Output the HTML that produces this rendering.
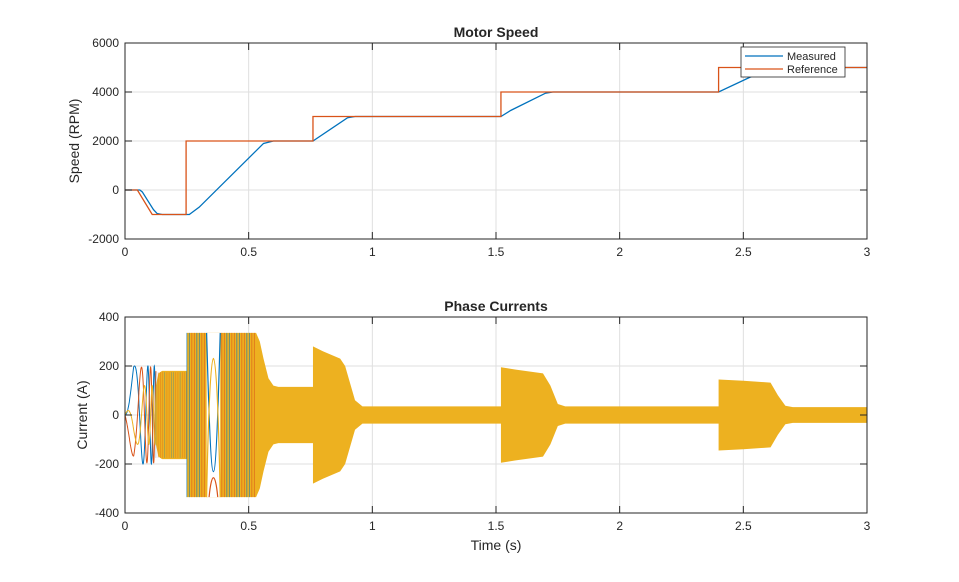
<!DOCTYPE html>
<html><head><meta charset="utf-8"><style>
body{margin:0;background:#fff;}
svg text{font-family:"Liberation Sans",Arial,sans-serif;fill:#262626;}
</style></head><body>
<svg id="s" width="959" height="577" xmlns="http://www.w3.org/2000/svg">
<rect width="959" height="577" fill="#fff"/>
<g id="g"></g>
<text x="496" y="37" font-size="14" font-weight="bold" text-anchor="middle">Motor Speed</text>
<text x="496" y="311" font-size="14" font-weight="bold" text-anchor="middle">Phase Currents</text>
<text x="496" y="550" font-size="14" text-anchor="middle">Time (s)</text>
<text transform="translate(79,141) rotate(-90)" font-size="14" text-anchor="middle">Speed (RPM)</text>
<text transform="translate(87,415) rotate(-90)" font-size="14" text-anchor="middle">Current (A)</text>
</svg>
<script>
const g=document.getElementById('g');
const NS='http://www.w3.org/2000/svg';
function el(t,a,txt){const e=document.createElementNS(NS,t);for(const k in a)e.setAttribute(k,a[k]);if(txt!==undefined)e.textContent=txt;g.appendChild(e);return e;}
const X=t=>125+t*247.33;
const Y1=v=>239-(v+2000)*196/8000;
const Y2=v=>415-v*0.245;
function axes(top,bot,Y,ticks){
 for(let i=0;i<=6;i++){const x=X(i*0.5);el('line',{x1:x,y1:top,x2:x,y2:bot,stroke:'#dfdfdf','stroke-width':1});}
 ticks.forEach(v=>el('line',{x1:125,y1:Y(v),x2:867,y2:Y(v),stroke:'#dfdfdf','stroke-width':1}));
}
function frame(top,bot,Y,ticks){
 el('rect',{x:125,y:top,width:742,height:bot-top,fill:'none',stroke:'#262626','stroke-width':1});
 for(let i=0;i<=6;i++){const x=X(i*0.5);el('line',{x1:x,y1:bot,x2:x,y2:bot-7,stroke:'#262626'});el('line',{x1:x,y1:top,x2:x,y2:top+7,stroke:'#262626'});
  el('text',{x:x,y:bot+17,'font-size':12,'text-anchor':'middle'},String(i*0.5));}
 ticks.forEach(v=>{el('line',{x1:125,y1:Y(v),x2:132,y2:Y(v),stroke:'#262626'});el('line',{x1:867,y1:Y(v),x2:860,y2:Y(v),stroke:'#262626'});
  el('text',{x:119,y:Y(v)+4,'font-size':12,'text-anchor':'end'},String(v));});
}
const t1=[-2000,0,2000,4000,6000], t2=[-400,-200,0,200,400];
axes(43,239,Y1,t1); axes(317,513,Y2,t2);
function pl(pts,Y,c){el('polyline',{points:pts.map(p=>X(p[0])+','+Y(p[1])).join(' '),fill:'none',stroke:c,'stroke-width':1.3});}
pl([[0,0],[0.06,0],[0.07,-80],[0.09,-400],[0.115,-800],[0.13,-960],[0.15,-1000],[0.26,-1000],[0.3,-700],[0.56,1900],[0.6,2000],[0.76,2000],[0.9,2950],[0.93,3000],[1.52,3000],[1.56,3250],[1.7,3950],[1.73,4000],[2.4,4000],[2.6,4950],[2.63,5000],[3,5000]],Y1,'#0072bd');
pl([[0,0],[0.05,0],[0.11,-1000],[0.247,-1000],[0.247,2000],[0.76,2000],[0.76,3000],[1.52,3000],[1.52,4000],[2.4,4000],[2.4,5000],[3,5000]],Y1,'#d95319');
function sinpath(ph,c,amp){let d='';for(let t=0;t<=0.125;t+=0.0004){const cyc=5*t+1000*t*t*t;const A=(t<0.035?t/0.035:1)*amp;const v=A*Math.sin(2*Math.PI*cyc+ph);d+=(d?'L':'M')+X(t).toFixed(1)+','+Y2(v).toFixed(1);}el('path',{d:d,fill:'none',stroke:c,'stroke-width':1});}
sinpath(0,'#0072bd',200);sinpath(-2.4,'#d95319',195);sinpath(2.3,'#edb120',120);
const env=[[0.12,20],[0.125,120],[0.135,170],[0.15,180],[0.25,180],[0.25,335],[0.53,335],[0.545,300],[0.56,230],[0.58,150],[0.6,120],[0.62,115],[0.76,115],[0.76,280],[0.8,260],[0.87,230],[0.89,200],[0.93,60],[0.96,35],[1.52,35],[1.52,195],[1.58,185],[1.69,170],[1.72,120],[1.75,45],[1.78,35],[2.4,35],[2.4,145],[2.5,140],[2.61,132],[2.64,80],[2.67,38],[2.7,32],[3,32]];
let pts=env.map(p=>X(p[0])+','+Y2(p[1])).concat(env.slice().reverse().map(p=>X(p[0])+','+Y2(-p[1])));
el('polygon',{points:pts.join(' '),fill:'#edb120'});
for(let x=X(0.125);x<X(0.25);x+=2.2){el('line',{x1:x,y1:Y2(175),x2:x,y2:Y2(-175),stroke:(Math.round(x)%3==0)?'#0072bd':'#d95319','stroke-width':0.6,'stroke-opacity':0.45});}
for(let x=X(0.25);x<X(0.53);x+=2.5){const t=(x-125)/247.33;if(t>0.33&&t<0.385)continue;el('line',{x1:x,y1:Y2(335),x2:x,y2:Y2(-335),stroke:(Math.round(x*3)%2==0)?'#0072bd':'#d95319','stroke-width':0.8,'stroke-opacity':0.7});}
el('rect',{x:X(0.33),y:Y2(335),width:X(0.385)-X(0.33),height:Y2(-335)-Y2(335),fill:'#fff'});
el('path',{d:`M${X(0.33)},${Y2(335)} C${X(0.35)},${Y2(-420)} ${X(0.365)},${Y2(-420)} ${X(0.385)},${Y2(335)}`,fill:'none',stroke:'#0072bd','stroke-width':1.2});
el('path',{d:`M${X(0.33)},${Y2(-335)} C${X(0.345)},${Y2(420)} ${X(0.37)},${Y2(420)} ${X(0.385)},${Y2(-335)}`,fill:'none',stroke:'#edb120','stroke-width':1.2});
el('path',{d:`M${X(0.34)},${Y2(-335)} C${X(0.35)},${Y2(-230)} ${X(0.365)},${Y2(-230)} ${X(0.375)},${Y2(-335)}`,fill:'none',stroke:'#d95319','stroke-width':1.2});
frame(43,239,Y1,t1); frame(317,513,Y2,t2);
el('rect',{x:741,y:47,width:104,height:30,fill:'#fff',stroke:'#262626','stroke-width':0.8});
el('line',{x1:745,y1:56,x2:783,y2:56,stroke:'#0072bd','stroke-width':1.3});
el('line',{x1:745,y1:69,x2:783,y2:69,stroke:'#d95319','stroke-width':1.3});
el('text',{x:787,y:60,'font-size':11},'Measured');
el('text',{x:787,y:73,'font-size':11},'Reference');
</script>
</body></html>
